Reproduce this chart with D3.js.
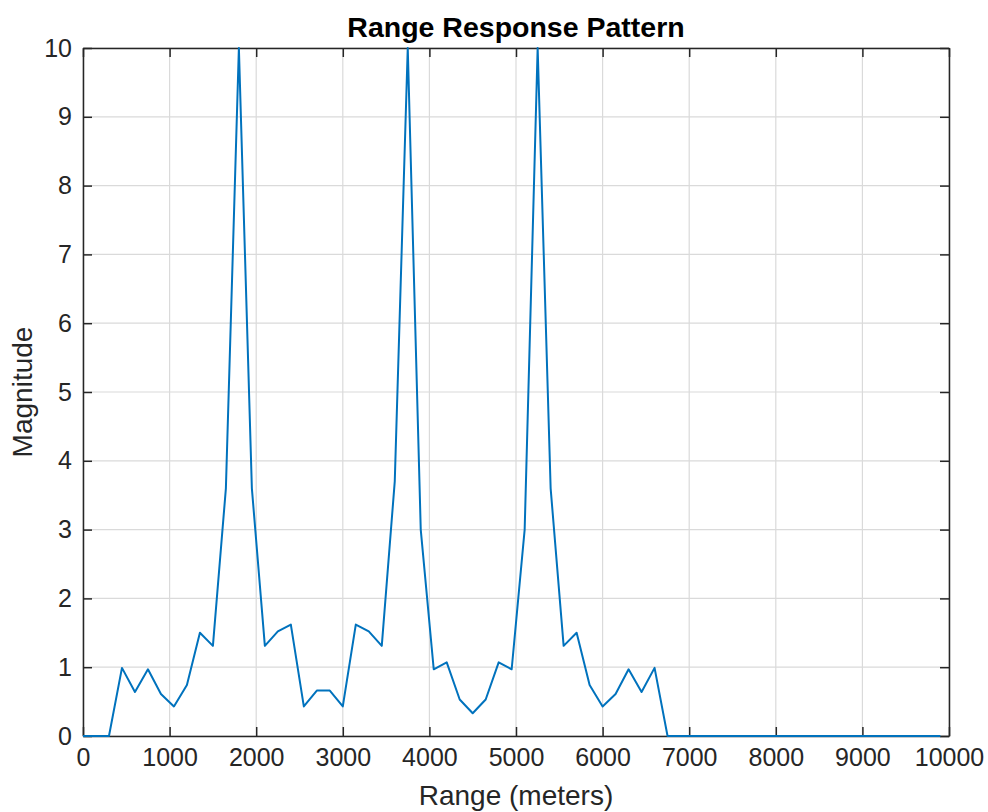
<!DOCTYPE html>
<html>
<head>
<meta charset="utf-8">
<script src="https://cdn.jsdelivr.net/npm/d3@7"></script>
<style>
  html, body { margin: 0; padding: 0; background: #fff; }
  svg { display: block; font-family: "Liberation Sans", Arial, Helvetica, sans-serif; }
</style>
</head>
<body>
<svg id="chart" width="988" height="812"></svg>
<script>
// ---- data ----
const ranges = [0,150,300,450,600,750,900,1050,1200,1350,1500,1650,1800,1950,2100,2250,2400,2550,2700,2850,3000,3150,3300,3450,3600,3750,3900,4050,4200,4350,4500,4650,4800,4950,5100,5250,5400,5550,5700,5850,6000,6150,6300,6450,6600,6750,6900,7050,7200,7350,7500,7650,7800,7950,8100,8250,8400,8550,8700,8850,9000,9150,9300,9450,9600,9750,9900];
const magnitudes = [0,0,0,0.99,0.64,0.97,0.61,0.43,0.74,1.50,1.31,3.6,10,3.6,1.31,1.52,1.62,0.43,0.66,0.66,0.43,1.62,1.52,1.31,3.7,10,3.0,0.97,1.07,0.53,0.33,0.53,1.07,0.97,3.0,10,3.6,1.31,1.50,0.74,0.43,0.61,0.97,0.64,0.99,0,0,0,0,0,0,0,0,0,0,0,0,0,0,0,0,0,0,0,0,0,0];
const xTicks = [0,1000,2000,3000,4000,5000,6000,7000,8000,9000,10000];
const yTicks = [0,1,2,3,4,5,6,7,8,9,10];
const titleText = "Range Response Pattern";
const xLabel = "Range (meters)";
const yLabel = "Magnitude";

// ---- layout ----
const L = 83, R = 949, T = 48, B = 736;
const svg = d3.select("#chart");
const x = d3.scaleLinear().domain([0, 10000]).range([L, R]);
const y = d3.scaleLinear().domain([0, 10]).range([B, T]);
const axisColor = "#262626";
const tickLen = 9;

// grid
const grid = svg.append("g");
grid.selectAll("line.gx").data(xTicks).join("line")
  .attr("x1", d => x(d)).attr("x2", d => x(d)).attr("y1", T).attr("y2", B)
  .attr("stroke", "#dadada").attr("stroke-width", 1.2);
grid.selectAll("line.gy").data(yTicks).join("line")
  .attr("y1", d => y(d)).attr("y2", d => y(d)).attr("x1", L).attr("x2", R)
  .attr("stroke", "#dadada").attr("stroke-width", 1.2);

// axes
const fs = 25;
const xAxis = svg.append("g").attr("transform", `translate(0,${B})`)
  .call(d3.axisBottom(x).tickValues(xTicks).tickSizeInner(-tickLen).tickSizeOuter(0).tickPadding(12).tickFormat(d3.format("d")));
const yAxis = svg.append("g").attr("transform", `translate(${L},0)`)
  .call(d3.axisLeft(y).tickValues(yTicks).tickSizeInner(-tickLen).tickSizeOuter(0).tickPadding(11).tickFormat(d3.format("d")));
const xTop = svg.append("g").attr("transform", `translate(0,${T})`)
  .call(d3.axisTop(x).tickValues(xTicks).tickSizeInner(-tickLen).tickSizeOuter(0).tickFormat(""));
const yRight = svg.append("g").attr("transform", `translate(${R},0)`)
  .call(d3.axisRight(y).tickValues(yTicks).tickSizeInner(-tickLen).tickSizeOuter(0).tickFormat(""));
[xAxis, yAxis, xTop, yRight].forEach(g => {
  g.select(".domain").attr("stroke", axisColor).attr("stroke-width", 1.5);
  g.selectAll(".tick line").attr("stroke", axisColor).attr("stroke-width", 1.5);
  g.selectAll(".tick text").attr("fill", axisColor).attr("font-size", fs)
    .attr("font-family", "'Liberation Sans', Arial, sans-serif");
});
xAxis.selectAll(".tick text").attr("dy", "0.71em");

// line (on top)
svg.append("defs").append("clipPath").attr("id", "clip")
  .append("rect").attr("x", L - 1).attr("y", T - 1).attr("width", R - L + 2).attr("height", B - T + 3);
const pts = ranges.map((r, i) => [r, magnitudes[i]]);
svg.append("path").datum(pts)
  .attr("clip-path", "url(#clip)")
  .attr("fill", "none").attr("stroke", "#0072BD").attr("stroke-width", 2)
  .attr("stroke-linejoin", "round")
  .attr("d", d3.line().x(d => x(d[0])).y(d => y(d[1])));

// title & labels
svg.append("text").attr("x", (L + R) / 2).attr("y", 37).attr("text-anchor", "middle")
  .attr("font-weight", "bold").attr("font-size", 28.5).attr("fill", "#000").text(titleText);
svg.append("text").attr("x", (L + R) / 2).attr("y", 805).attr("text-anchor", "middle")
  .attr("font-size", 28).attr("fill", axisColor).text(xLabel);
svg.append("text").attr("transform", `translate(32,${(T + B) / 2}) rotate(-90)`)
  .attr("text-anchor", "middle").attr("font-size", 28).attr("fill", axisColor).text(yLabel);
</script>
</body>
</html>
